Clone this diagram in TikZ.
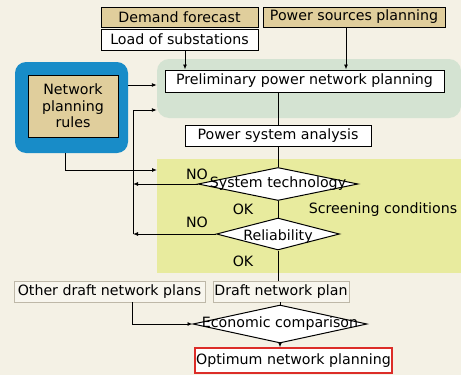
\documentclass[tikz,border=0pt]{standalone}
\usepackage{fontspec}
\setmainfont{DejaVu Sans}
\usepackage{tikz}
\usetikzlibrary{
    arrows.meta,
    calc,
    shapes.geometric
}

\definecolor{paper}{RGB}{244,241,229}
\definecolor{tan}{RGB}{224,206,156}
\definecolor{rulesblue}{RGB}{24,140,200}
\definecolor{bandgreen}{RGB}{212,227,210}
\definecolor{bandyellow}{RGB}{232,235,158}
\definecolor{optred}{RGB}{220,45,40}
\definecolor{plainline}{RGB}{190,184,168}
\definecolor{plainfill}{RGB}{248,246,238}

\begin{document}
\begin{tikzpicture}[x=1pt,y=-1pt,
    font=\fontsize{14.2}{16}\selectfont,
    every node/.style={inner sep=0pt},
    arr/.style={-{Latex[length=5pt,width=4pt]},line width=0.9pt},
    conn/.style={line width=0.9pt},
    tanbox/.style={draw,line width=1pt,fill=tan},
    whitebox/.style={draw,line width=1pt,fill=white},
    plainbox/.style={draw=plainline,line width=0.8pt,fill=plainfill},
    dia/.style={diamond,draw,line width=1pt,fill=white}]

% Background
\fill[paper] (0,0) rectangle (461,375);
\useasboundingbox (0,0) rectangle (461,375);

% Bands
\node[fill=bandgreen,rounded corners=12pt,minimum width=304pt,minimum height=59pt]
    (green) at (309,88.5) {};
\node[fill=bandyellow,minimum width=305pt,minimum height=114pt]
    (yellow) at (309.5,216) {};

% Input boxes
\node[tanbox,minimum width=157pt,minimum height=20pt] (demand) at (179.5,17) {Demand forecast};
\node[tanbox,minimum width=182pt,minimum height=20pt] (sources) at (354,17) {Power sources planning};
\node[whitebox,minimum width=157pt,minimum height=21pt] (load) at (179.5,39.5) {Load of substations};

% Network planning rules
\node[fill=rulesblue,rounded corners=11pt,minimum width=113pt,minimum height=91pt]
    (blue) at (71.5,107.5) {};
\node[tanbox,minimum width=90pt,minimum height=62pt,align=center,
    font=\fontsize{14.2}{16.5}\selectfont] (rules) at (73,106)
    {Network\\planning\\rules};

% Main flow
\node[whitebox,minimum width=279pt,minimum height=22pt] (prelim) at (304.5,81)
    {Preliminary power network planning};
\node[whitebox,minimum width=186pt,minimum height=21pt] (analysis) at (278,135.5)
    {Power system analysis};

% Screening
\node[dia,minimum width=160pt,minimum height=33pt] (tech) at (278,184) {};
\node at (tech) {System technology};
\node[dia,minimum width=123pt,minimum height=32pt] (rel) at (278,234) {};
\node at ([yshift=-3pt]rel.center) {Reliability};
\node (screen) at (383,210) {Screening conditions};
\node (no1) at (197,174) {NO};
\node (ok1) at (243,209) {OK};
\node (no2) at (197,222) {NO};
\node (ok2) at (243,261) {OK};

% Drafts
\node[plainbox,minimum width=191pt,minimum height=21pt] (other) at (109.5,291.5)
    {Other draft network plans};
\node[plainbox,minimum width=136pt,minimum height=21pt] (draft) at (281,291.5)
    {Draft network plan};
\node[dia,minimum width=174pt,minimum height=38pt] (econ) at (280,324) {};
\node at (econ) {Economic comparison};
\node[draw=optred,line width=1.2pt,fill=white,minimum width=197pt,minimum height=25pt]
    (opt) at (293.5,360.5) {Optimum network planning};

% Feedback line
\coordinate (fb) at (133,110);
\coordinate (rin) at (157,170);

% Connectors
\draw[arr] ([xshift=5.5pt]load.south) -- ([xshift=5.5pt]load.south |- prelim.north);
\draw[arr] ([xshift=-8pt]sources.south) -- ([xshift=-8pt]sources.south |- prelim.north);
\draw[arr] ([yshift=22.5pt]blue.east) -- ([yshift=22.5pt]blue.east -| green.west);
\draw[conn] (analysis.north |- prelim.south) -- (analysis.north);
\draw[conn] (analysis.south) -- (tech.north);
\draw[conn] (tech.south) -- (rel.north);
\draw[conn] (rel.south) -- (rel.south |- draft.north);
\draw[arr] (tech.west) -- (tech.west -| fb);
\draw[arr] (rel.west) -- (rel.west -| fb);
\draw[arr] (rel.west -| fb) -- (fb) -- (fb -| green.west);
\draw[arr] ([xshift=-6.5pt]blue.south) |- (rin);
\draw[conn] (econ.north |- draft.south) -- (econ.north);
\draw[arr] ([xshift=22.5pt]other.south) |- (econ.west);
\draw[arr] (econ.south) -- (econ.south |- opt.north);

\end{tikzpicture}
\end{document}
